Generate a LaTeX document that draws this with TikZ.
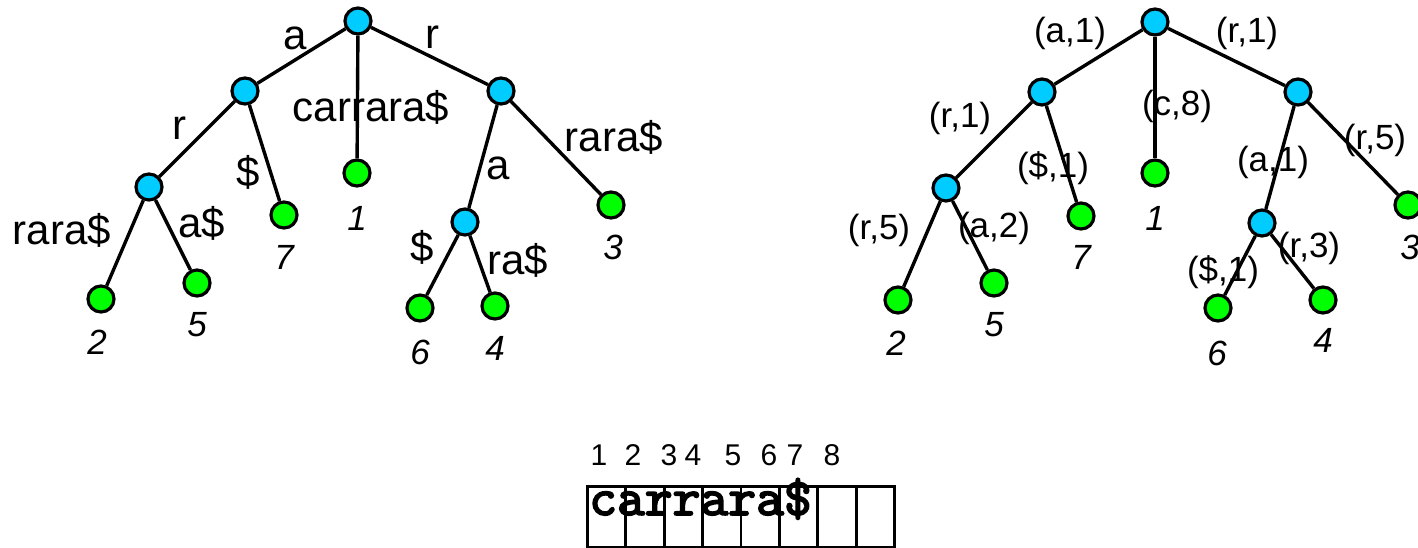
\documentclass[tikz,border=0pt]{standalone}
\usepackage{fontspec}
\setmainfont{Liberation Sans}
\newfontfamily\monob[FakeBold=3]{lmmono10-regular.otf}
\definecolor{nodecyan}{RGB}{0,204,255}
\definecolor{leafgreen}{RGB}{0,255,0}
\begin{document}
\begin{tikzpicture}[x=1pt,y=-1pt]
\useasboundingbox (0,0) rectangle (1418,547);
\tikzset{
  inode/.style={circle, draw=black, line width=3.2pt, fill=nodecyan, minimum size=26pt, inner sep=0pt},
  leaf/.style={circle, draw=black, line width=3.2pt, fill=leafgreen, minimum size=26pt, inner sep=0pt},
  edge/.style={line width=3.4pt, draw=black},
  big/.style={font=\fontsize{42}{48}\selectfont, inner sep=0pt},
  med/.style={font=\fontsize{35}{40}\selectfont, inner sep=0pt},
  num/.style={font=\fontsize{35}{40}\selectfont\itshape, inner sep=0pt},
  cell/.style={draw=black, line width=2.7pt, minimum width=38.4pt, minimum height=61pt, inner sep=0pt, anchor=north west},
  idx/.style={font=\fontsize{30}{34}\selectfont, inner sep=0pt, anchor=base},
}
% ---------- left tree ----------
\node[inode] (A0) at (358,21) {};
\node[inode] (A1) at (245,91) {};
\node[inode] (A2) at (501,91) {};
\node[inode] (A3) at (149,187) {};
\node[inode] (A4) at (465,222) {};
\node[leaf] (Al1) at (357,173) {};
\node[leaf] (Al7) at (284,215) {};
\node[leaf] (Al2) at (101,299) {};
\node[leaf] (Al5) at (197,283) {};
\node[leaf] (Al3) at (611,205) {};
\node[leaf] (Al6) at (420,308) {};
\node[leaf] (Al4) at (495,306) {};
\draw[edge] (A0) -- (A1);
\draw[edge] (A0) -- (A2);
\draw[edge] (A0) -- (Al1);
\draw[edge] (A1) -- (A3);
\draw[edge] (A1) -- (Al7);
\draw[edge] (A3) -- (Al2);
\draw[edge] (A3) -- (Al5);
\draw[edge] (A2) -- (A4);
\draw[edge] (A2) -- (Al3);
\draw[edge] (A4) -- (Al6);
\draw[edge] (A4) -- (Al4);
\node[big] (ta1) at (295,38) {a};
\node[big] (ta2) at (432,37) {r};
\node[big] (ta3) at (371,107) {carrara\$};
\node[big] (ta4) at (179,128) {r};
\node[big] (ta5) at (248,172) {\$};
\node[big] (ta6) at (62,230) {rara\$};
\node[big] (ta7) at (202,223) {a\$};
\node[big] (ta8) at (498,168) {a};
\node[big] (ta9) at (614,137) {rara\$};
\node[big] (ta10) at (422,247) {\$};
\node[big] (ta11) at (518,260) {ra\$};
\node[num] (na1) at (357,218) {1};
\node[num] (na7) at (284,257) {7};
\node[num] (na2) at (97,342) {2};
\node[num] (na5) at (197,325) {5};
\node[num] (na6) at (420,352) {6};
\node[num] (na4) at (495,348) {4};
\node[num] (na3) at (613,247) {3};
% ---------- right tree ----------
\node[inode] (B0) at (1155,22) {};
\node[inode] (B1) at (1042,92) {};
\node[inode] (B2) at (1298,92) {};
\node[inode] (B3) at (946,188) {};
\node[inode] (B4) at (1262,223) {};
\node[leaf] (Bl1) at (1155,173) {};
\node[leaf] (Bl7) at (1081,216) {};
\node[leaf] (Bl2) at (898,300) {};
\node[leaf] (Bl5) at (994,283) {};
\node[leaf] (Bl3) at (1408,205) {};
\node[leaf] (Bl6) at (1218,308) {};
\node[leaf] (Bl4) at (1323,300) {};
\draw[edge] (B0) -- (B1);
\draw[edge] (B0) -- (B2);
\draw[edge] (B0) -- (Bl1);
\draw[edge] (B1) -- (B3);
\draw[edge] (B1) -- (Bl7);
\draw[edge] (B3) -- (Bl2);
\draw[edge] (B3) -- (Bl5);
\draw[edge] (B2) -- (B4);
\draw[edge] (B2) -- (Bl3);
\draw[edge] (B4) -- (Bl6);
\draw[edge] (B4) -- (Bl4);
\node[med] (tb1) at (1070,33) {(a,1)};
\node[med] (tb2) at (1247,33) {(r,1)};
\node[med] (tb3) at (1177,106) {(c,8)};
\node[med] (tb4) at (960,118) {(r,1)};
\node[med] (tb5) at (1053,168) {(\$,1)};
\node[med] (tb6) at (1375,140) {(r,5)};
\node[med] (tb7) at (1273,162) {(a,1)};
\node[med] (tb8) at (879,230) {(r,5)};
\node[med] (tb9) at (994,228) {(a,2)};
\node[med] (tb10) at (1309,248) {(r,3)};
\node[med] (tb11) at (1223,272) {(\$,1)};
\node[num] (nb1) at (1155,218) {1};
\node[num] (nb7) at (1081,257) {7};
\node[num] (nb2) at (896,343) {2};
\node[num] (nb5) at (994,325) {5};
\node[num] (nb6) at (1217,353) {6};
\node[num] (nb4) at (1323,340) {4};
\node[num] (nb3) at (1410,247) {3};
% ---------- array ----------
\foreach \i in {0,...,7} {
  \node[cell] (c\i) at ({586+38.4*\i},485) {};
}
\node[font=\monob\fontsize{53}{56}\selectfont, inner sep=0pt, anchor=base west] (word) at (589,515) {carrara\$};
\foreach \x/\d in {599/1,633/2,669/3,693/4,733/5,769/6,795/7,832/8} {
  \node[idx] (i\d) at (\x,465) {\d};
}
\end{tikzpicture}
\end{document}
